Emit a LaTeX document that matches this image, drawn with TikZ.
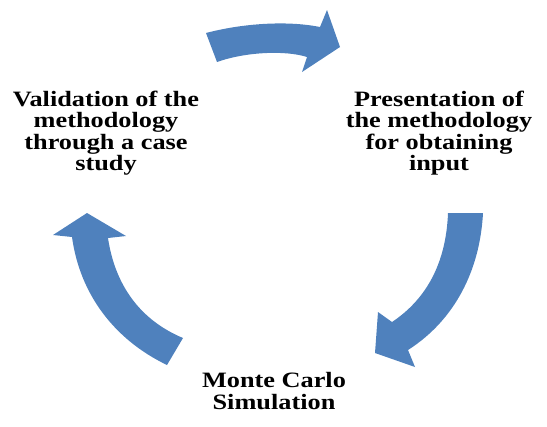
\documentclass[tikz,border=0pt]{standalone}
\usepackage{fontspec}
\newfontfamily\lblfont[FakeStretch=1.2]{Liberation Serif}
\usetikzlibrary{calc, positioning}
\definecolor{arrowblue}{HTML}{4F81BD}

\begin{document}
\begin{tikzpicture}[x=1bp, y=-1bp,
  cyclearrow/.style={fill=arrowblue, draw=none},
  steplabel/.style={font=\lblfont\bfseries\fontsize{22}{21.5}\selectfont, align=center, inner sep=0pt}]
\useasboundingbox (0, 0) rectangle (547, 426);

% top arrow
\fill[cyclearrow] (206, 33) .. controls (240, 24) and (285, 20) .. (320, 27)
  -- (327, 10) -- (340, 47) -- (302, 72) -- (307, 57)
  .. controls (285, 50) and (245, 52) .. (217, 62) -- cycle;

% right arrow
\fill[cyclearrow] (448, 213) -- (483, 213)
  .. controls (480, 270) and (455, 320) .. (408, 350)
  -- (415, 367) -- (375, 353) -- (378, 312) -- (392, 322)
  .. controls (425, 300) and (446, 265) .. (448, 213) -- cycle;

% left arrow
\fill[cyclearrow] (87, 213) -- (126, 236) -- (108, 238)
  .. controls (115, 285) and (140, 320) .. (183, 338)
  -- (167, 365) .. controls (115, 340) and (80, 295) .. (72, 237)
  -- (53, 235) -- cycle;

\node[steplabel] (valid) at (106, 133) {Validation of the\\methodology\\through a case\\study};
\node[steplabel] (present) at (439, 133) {Presentation of\\the methodology\\for obtaining\\input};
\node[steplabel, font=\lblfont\bfseries\fontsize{22}{23}\selectfont] (monte) at (274, 391) {Monte Carlo\\Simulation};

\end{tikzpicture}
\end{document}
